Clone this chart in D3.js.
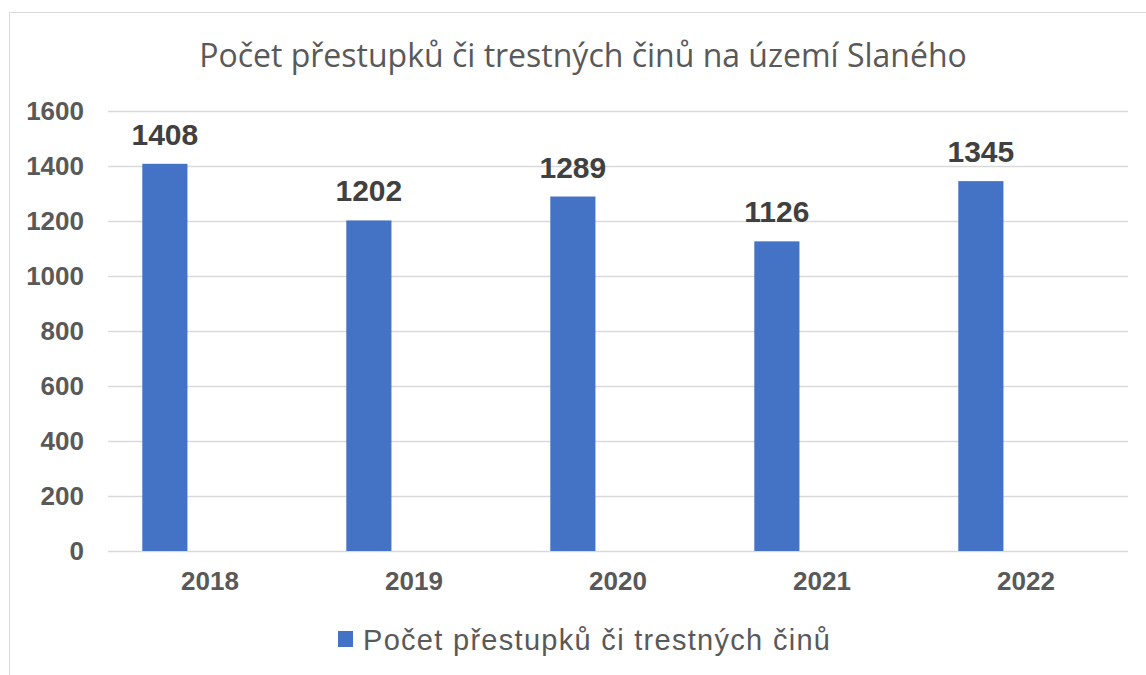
<!DOCTYPE html>
<html>
<head>
<meta charset="utf-8">
<script src="https://cdn.jsdelivr.net/npm/d3@7"></script>
<style>
  body { margin: 0; background: #fff; }
  svg { display: block; }
</style>
</head>
<body>
<div id="chart"></div>
<script>
// Chart data
const years = ['2018', '2019', '2020', '2021', '2022'];
const counts = [1408, 1202, 1289, 1126, 1345];
const yTicks = [0, 200, 400, 600, 800, 1000, 1200, 1400, 1600];
const seriesName = 'Počet přestupků či trestných činů';
const titleText = 'Počet přestupků či trestných činů na území Slaného';
// the source chart reserves three bar slots per year, only the first is filled
const slots = ['s0', 's1', 's2'];

const W = 1146, H = 675;
const plot = { left: 108, right: 1128, top: 111, bottom: 551 };

const svg = d3.select('#chart')
    .append('svg')
    .attr('width', W)
    .attr('height', H);

// Chart frame
svg.append('rect')
    .attr('x', 9.5)
    .attr('y', 12.5)
    .attr('width', 1150)
    .attr('height', 700)
    .attr('fill', '#fff')
    .attr('stroke', '#d9d9d9')
    .attr('stroke-width', 1);

// Scales
const x = d3.scaleBand()
    .domain(years)
    .range([plot.left, plot.right]);

const xInner = d3.scaleBand()
    .domain(slots)
    .range([0, x.bandwidth()])
    .paddingOuter(0.76);

const y = d3.scaleLinear()
    .domain([0, 1600])
    .range([plot.bottom, plot.top]);

const labelFont = 'Liberation Sans, Arial, sans-serif';

// Title
svg.append('text')
    .attr('x', 583)
    .attr('y', 67)
    .attr('text-anchor', 'middle')
    .attr('font-family', 'Open Sans, sans-serif')
    .attr('font-size', 32)
    .attr('fill', '#595959')
    .text(titleText);

// Gridlines
svg.append('g')
    .attr('transform', `translate(${plot.left},0)`)
    .call(d3.axisLeft(y)
        .tickValues(yTicks)
        .tickSize(-(plot.right - plot.left))
        .tickFormat(''))
    .call(g => g.select('.domain').remove())
    .call(g => g.selectAll('line')
        .attr('stroke', '#d9d9d9')
        .attr('stroke-width', 1.5));

// Y axis labels
svg.append('g')
    .attr('transform', `translate(${plot.left - 24},0)`)
    .call(d3.axisLeft(y).tickValues(yTicks).tickFormat(d3.format('d')).tickSize(0).tickPadding(0))
    .call(g => g.select('.domain').remove())
    .call(g => g.selectAll('text')
        .attr('font-family', labelFont)
        .attr('font-weight', 'bold')
        .attr('font-size', 26)
        .attr('fill', '#595959'));

// X axis labels
svg.append('g')
    .attr('transform', `translate(0,${plot.bottom})`)
    .call(d3.axisBottom(x).tickSize(0).tickPadding(21))
    .call(g => g.select('.domain').remove())
    .call(g => g.selectAll('text')
        .attr('font-family', labelFont)
        .attr('font-weight', 'bold')
        .attr('font-size', 26)
        .attr('fill', '#595959'));

// Bars
const barX = d => x(d.year) + xInner('s0');
const data = years.map((year, i) => ({ year, value: counts[i] }));

svg.selectAll('.bar')
    .data(data)
    .enter()
    .append('rect')
    .attr('class', 'bar')
    .attr('x', barX)
    .attr('y', d => y(d.value))
    .attr('width', xInner.bandwidth())
    .attr('height', d => y(0) - y(d.value))
    .attr('fill', '#4472c4');

// Value labels
svg.selectAll('.value')
    .data(data)
    .enter()
    .append('text')
    .attr('class', 'value')
    .attr('x', d => barX(d) + xInner.bandwidth() / 2)
    .attr('y', d => y(d.value) - 19)
    .attr('text-anchor', 'middle')
    .attr('font-family', labelFont)
    .attr('font-weight', 'bold')
    .attr('font-size', 30)
    .attr('fill', '#404040')
    .text(d => d.value);

// Legend
const legend = svg.append('g')
    .attr('transform', 'translate(338,631)');

legend.append('rect')
    .attr('width', 15)
    .attr('height', 16)
    .attr('fill', '#4472c4');

legend.append('text')
    .attr('x', 25)
    .attr('y', 19)
    .attr('font-family', labelFont)
    .attr('font-size', 29)
    .attr('textLength', 467)
    .attr('lengthAdjust', 'spacing')
    .attr('fill', '#595959')
    .text(seriesName);
</script>
</body>
</html>
